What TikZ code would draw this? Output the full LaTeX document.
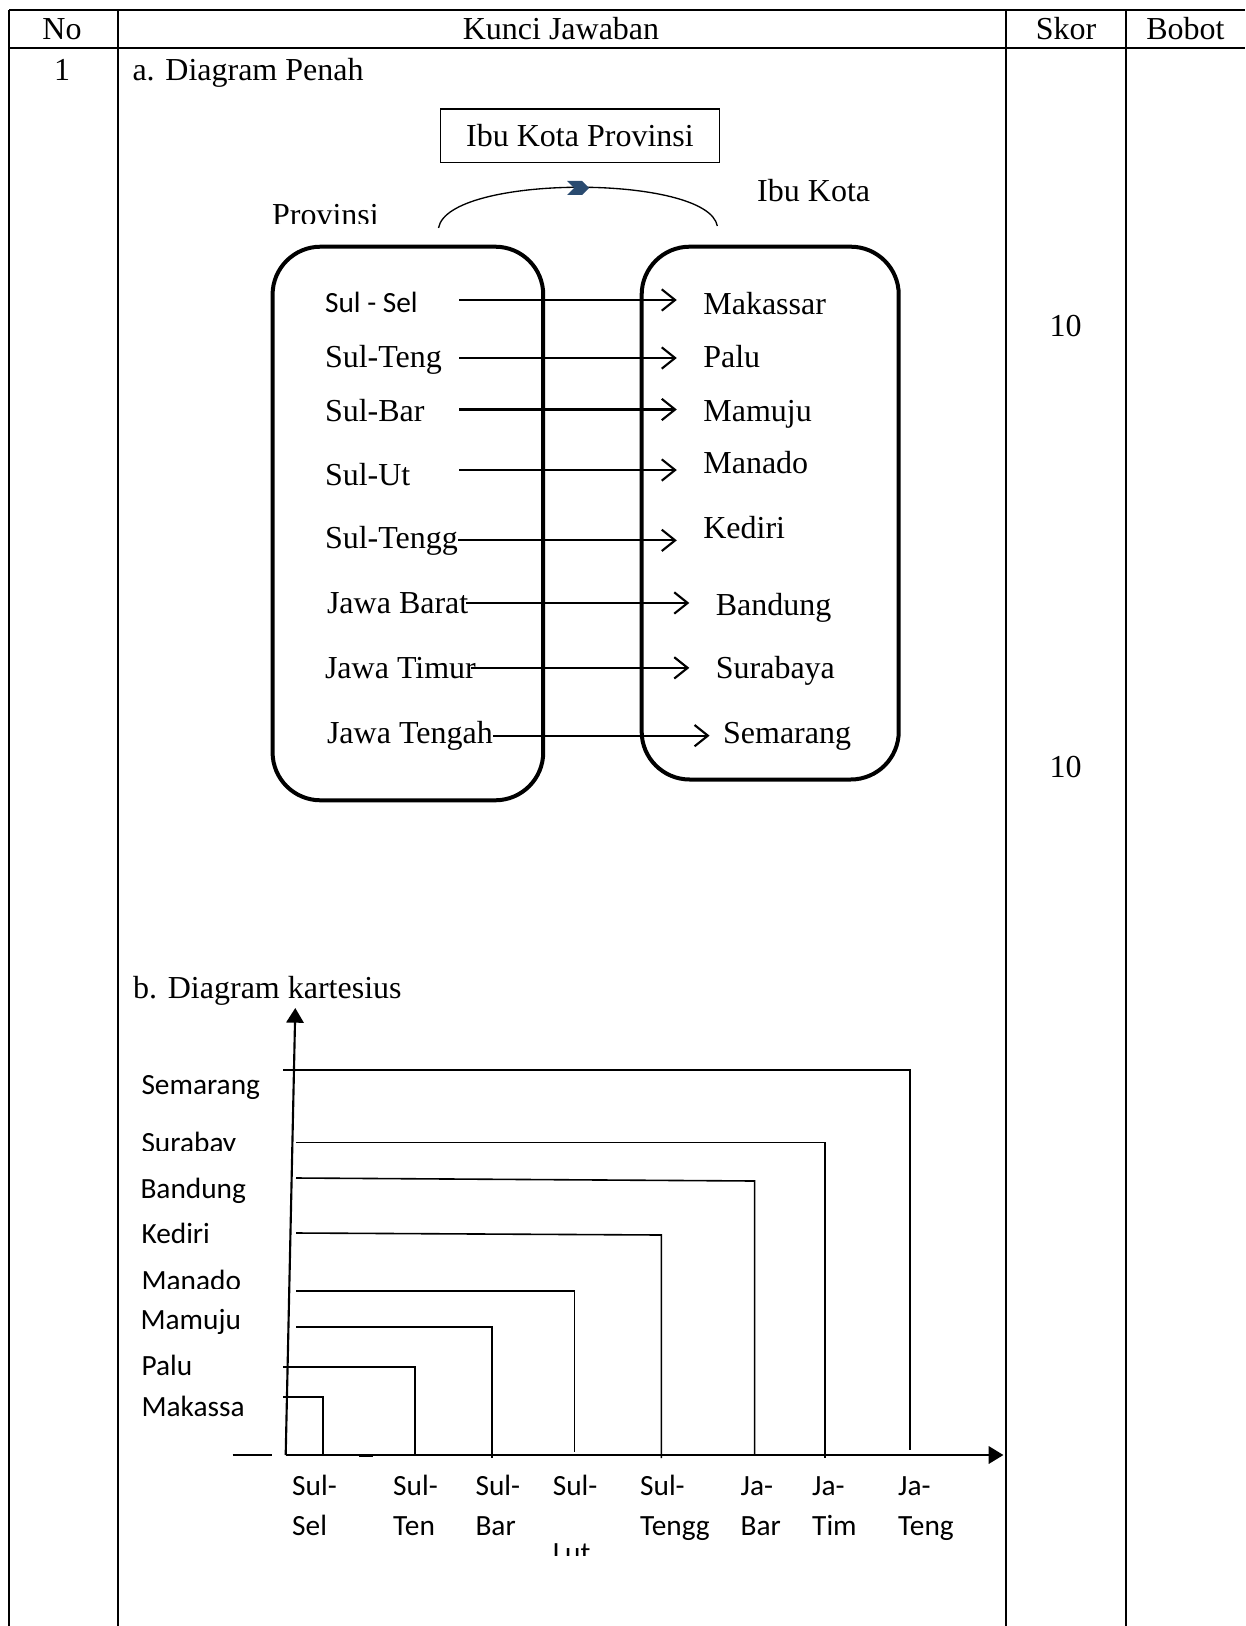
\documentclass[tikz,border=0pt]{standalone}
\usepackage{fontspec}
\setmainfont{Liberation Serif}
\newfontfamily\calibri{Carlito}
\usetikzlibrary{positioning,arrows.meta,calc}
\definecolor{chevBlue}{HTML}{2A4B70}

\begin{document}
\begin{tikzpicture}[
  x=0.375pt, y=-0.375pt,
  font=\fontsize{12}{14.4}\selectfont,
  tbl/.style={line width=0.7pt},
  txt/.style={anchor=base west, inner sep=0pt},
  ctxt/.style={anchor=base west, inner sep=0pt, font=\calibri\fontsize{11}{13.2}\selectfont},
  setbox/.style={draw, line width=1.5pt, rounded corners=18pt},
  mapto/.style={-{Straight Barb[length=5pt,width=8pt]}, line width=0.8pt},
  axisarr/.style={-{Triangle[length=5.5pt,width=6.5pt]}, line width=0.8pt},
  pairln/.style={line width=0.6pt}
]
\useasboundingbox (0,0) rectangle (1245,1626);

% ============================================================
% TABLE GRID + HEADER
% ============================================================
\draw[tbl] (9,10) -- (1245,10);
\draw[tbl] (9,47.7) -- (1245,47.7);
\draw[tbl] (9,10) -- (9,1626);
\draw[tbl] (118,10) -- (118,1626);
\draw[tbl] (1006,10) -- (1006,1626);
\draw[tbl] (1125.7,10) -- (1125.7,1626);

\node[anchor=base] (hNo) at (62,40) {No};
\node[anchor=base] (hKunci) at (561,40) {Kunci Jawaban};
\node[anchor=base] (hSkor) at (1066,40) {Skor};
\node[anchor=base] (hBobot) at (1185.5,40) {Bobot};

\node[anchor=base] (no1) at (62,80.5) {1};
\node[txt] (partA) at (132,80.5) {a. Diagram Penah};
\node[anchor=base] (skor1) at (1065.6,336) {10};
\node[anchor=base] (skor2) at (1065.6,777.5) {10};

% ============================================================
% DIAGRAM PANAH
% ============================================================
\node[draw, line width=0.5pt, minimum width=104.6pt, minimum height=20.2pt, inner sep=0pt] (ttlBox) at (580,135.8) {Ibu Kota Provinsi};

\begin{scope}
  \clip (250,190) rectangle (430,224);
  \node[txt] (provLbl) at (271.6,226) {Provinsi};
\end{scope}
\node[txt] (kotaLbl) at (756.7,202) {Ibu Kota};

\coordinate (arcL) at (438.5,228);
\coordinate (arcR) at (717.3,226);
\draw[line width=0.5pt] (arcL) .. controls (448,174) and (708,174) .. (arcR);
\coordinate (chev) at (578,188);
\fill[chevBlue] ($(chev)+(-11,-7)$) -- ++(15,0) -- ++(7,7) -- ++(-7,7) -- ++(-15,0) -- ++(7,-7) -- cycle;

\node[setbox, minimum width=101.5pt, minimum height=207.6pt] (provBox) at (407.9,523.5) {};
\node[setbox, minimum width=96.4pt, minimum height=199.8pt] (kotaBox) at (770.2,513.1) {};

% provinces
\node[ctxt] (pSel) at (324.5,313) {Sul - Sel};
\node[txt] (pTeng) at (324.5,367) {Sul-Teng};
\node[txt] (pBar) at (324.5,421) {Sul-Bar};
\node[txt] (pUt) at (324.5,485) {Sul-Ut};
\node[txt] (pTengg) at (324.5,548) {Sul-Tengg};
\node[txt] (pJabar) at (326.5,613.3) {Jawa Barat};
\node[txt] (pJatim) at (324.5,678.3) {Jawa Timur};
\node[txt] (pJateng) at (326.5,743.3) {Jawa Tengah};

% capitals
\node[txt] (cMks) at (702.8,314.8) {Makassar};
\node[txt] (cPalu) at (702.8,367) {Palu};
\node[txt] (cMamuju) at (702.8,421) {Mamuju};
\node[txt] (cManado) at (702.8,473) {Manado};
\node[txt] (cKediri) at (702.8,538) {Kediri};
\node[txt] (cBandung) at (715.3,615) {Bandung};
\node[txt] (cSby) at (715.3,678.3) {Surabaya};
\node[txt] (cSmg) at (722.6,743.3) {Semarang};

% mapping arrows
\coordinate (s1) at (459,300);
\coordinate (s2) at (459,358);
\coordinate (s3) at (459,409.5);
\coordinate (s4) at (459,470);
\draw[mapto] (s1) -- ($(s1 -| cMks.west)+(-26,0)$);
\draw[mapto] (s2) -- ($(s2 -| cPalu.west)+(-26,0)$);
\draw[mapto] (s3) -- ($(s3 -| cMamuju.west)+(-26,0)$);
\draw[mapto] (s4) -- ($(s4 -| cManado.west)+(-26,0)$);
\draw[mapto] (pTengg.east) -- ($(pTengg.east -| cKediri.west)+(-26,0)$);
\draw[mapto] ([xshift=-1pt]pJabar.east) -- ($(pJabar.east -| cBandung.west)+(-26,0)$);
\draw[mapto] ([xshift=-2pt]pJatim.east) -- ($(pJatim.east -| cSby.west)+(-26,0)$);
\draw[mapto] (pJateng.east) -- ($(pJateng.east -| cSmg.west)+(-13,0)$);

% ============================================================
% DIAGRAM KARTESIUS
% ============================================================
\node[txt] (partB) at (132.7,998) {b. Diagram kartesius};

\coordinate (O) at (285.7,1455);
\coordinate (yTop) at (295.3,1008);
\coordinate (xEnd) at (1003.4,1455);
\draw[axisarr] (O) -- (yTop);
\draw[axisarr] (O) -- (xEnd);
\draw[line width=1pt] (232.7,1455) -- (271.7,1455);
\draw[line width=1pt] (359.3,1456) -- (372.7,1456);

% y labels
\node[ctxt] (ySmg) at (141,1094) {Semarang};
\begin{scope}
  \clip (130,1120) rectangle (270,1150.5);
  \node[ctxt] (ySby) at (141,1152) {Surabay};
\end{scope}
\node[ctxt] (yBandung) at (140,1198) {Bandung};
\node[ctxt] (yKediri) at (141,1243.5) {Kediri};
\begin{scope}
  \clip (130,1260) rectangle (270,1288.3);
  \node[ctxt] (yManado) at (141,1290.5) {Manado};
\end{scope}
\node[ctxt] (yMamuju) at (140,1329) {Mamuju};
\node[ctxt] (yPalu) at (141,1375) {Palu};
\node[ctxt] (yMks) at (141,1416.7) {Makassa};

% pairing lines
\draw[pairln] (283,1070) -| (910.1,1450);
\draw[pairln] (296,1142.5) -| (825.1,1458);
\draw[pairln] (296,1178) -- (754.6,1181) -- (754.6,1455);
\draw[pairln] (296,1233) -- (661.4,1235) -- (661.4,1458);
\draw[pairln] (296,1291) -| (574.3,1452);
\draw[pairln] (296,1326.7) -| (491.7,1458);
\draw[pairln] (283,1366.7) -| (415,1456);
\draw[pairln] (283,1396.7) -| (322.7,1456);

% x labels
\node[ctxt] (xSelA) at (291.7,1495) {Sul-};
\node[ctxt] (xSelB) at (291.7,1535) {Sel};
\node[ctxt] (xTenA) at (392.7,1495) {Sul-};
\node[ctxt] (xTenB) at (392.7,1535) {Ten};
\node[ctxt] (xBarA) at (475,1495) {Sul-};
\node[ctxt] (xBarB) at (475,1535) {Bar};
\node[ctxt] (xUtA) at (552.3,1495) {Sul-};
\begin{scope}
  \clip (540,1535) rectangle (620,1555);
  \node[ctxt] (xUtB) at (552.3,1562.3) {Lut};
\end{scope}
\node[ctxt] (xTenggA) at (639.6,1495) {Sul-};
\node[ctxt] (xTenggB) at (639.6,1535) {Tengg};
\node[ctxt] (xJabarA) at (740.1,1495) {Ja-};
\node[ctxt] (xJabarB) at (740.1,1535) {Bar};
\node[ctxt] (xJatimA) at (811.7,1495) {Ja-};
\node[ctxt] (xJatimB) at (811.7,1535) {Tim};
\node[ctxt] (xJatengA) at (897.7,1495) {Ja-};
\node[ctxt] (xJatengB) at (897.7,1535) {Teng};

\end{tikzpicture}
\end{document}
